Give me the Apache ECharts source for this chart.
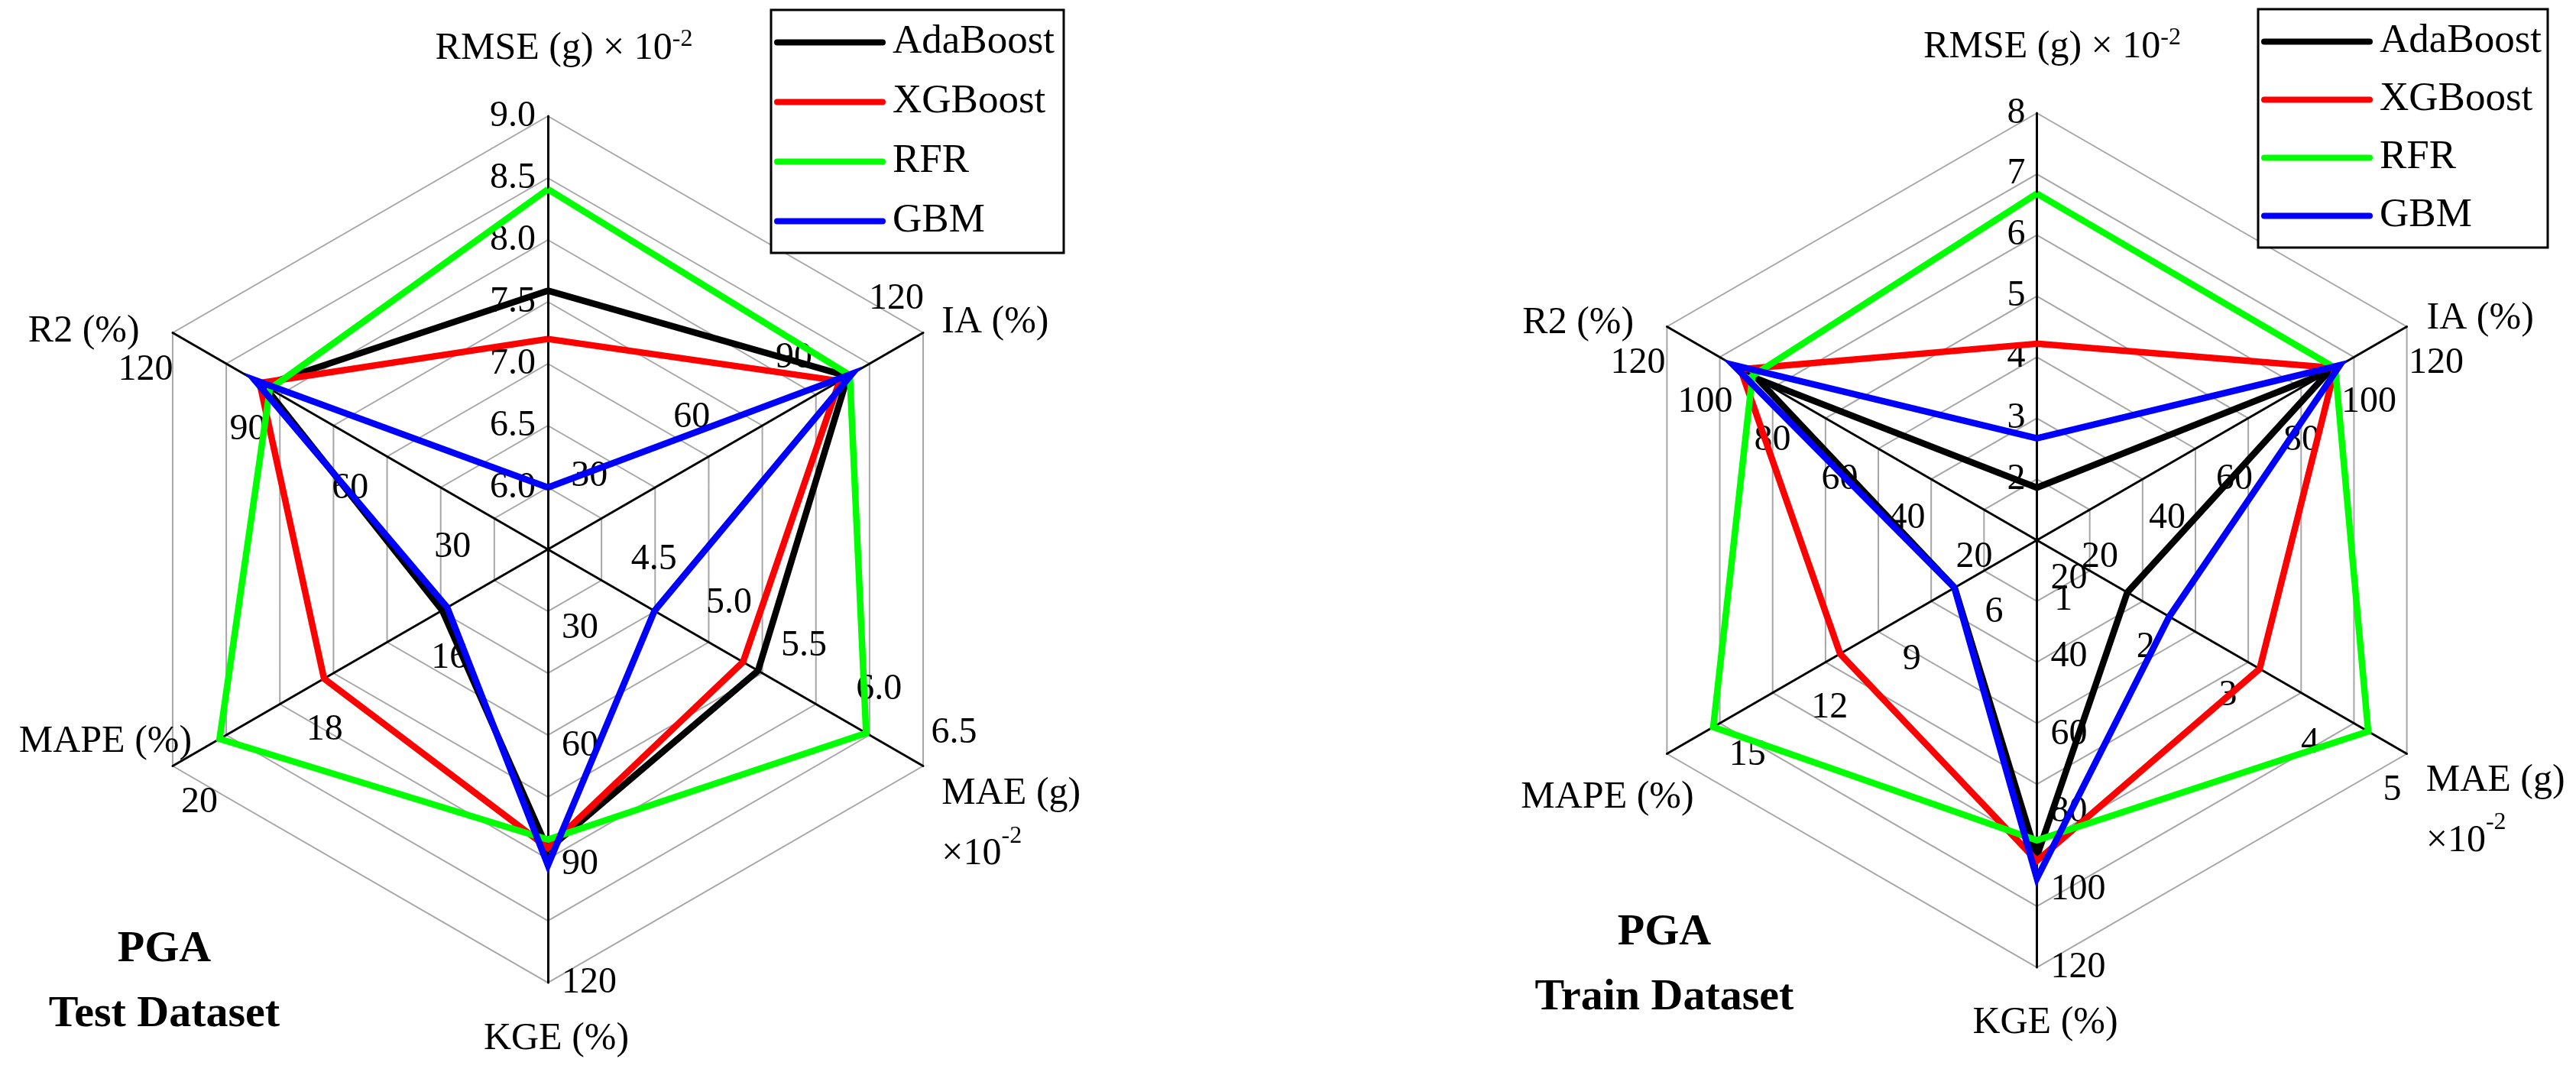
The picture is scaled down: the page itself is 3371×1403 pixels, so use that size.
<!DOCTYPE html>
<html>
<head>
<meta charset="utf-8">
<script src="https://cdn.jsdelivr.net/npm/echarts@6/dist/echarts.min.js"></script>
<style>
html,body{margin:0;padding:0;background:#fff;}
#chart{width:3371px;height:1403px;}
</style>
</head>
<body>
<div id="chart"></div>
<script>
// ---------------- DATA ----------------
const modelNames = ['AdaBoost', 'XGBoost', 'RFR', 'GBM'];
const modelColors = ['#000000', '#ff0000', '#00ff00', '#0000ff'];
// axes, counter-clockwise from the top
const axisKeys = ['RMSE', 'R2', 'MAPE', 'KGE', 'MAE', 'IA'];

// Test dataset (left)
const testAxisMin = [5.5, 10, 14, 10, 4.0, 10];
const testAxisMax = [9.0, 120, 20, 120, 6.5, 120];
const testTickStep = [0.5, 10, 2, 10, 0.5, 10];
const testRmseTicks = ['6.0', '6.5', '7.0', '7.5', '8.0', '8.5', '9.0'];
const testR2Ticks = ['30', '60', '90', '120'];
const testMapeTicks = ['16', '18', '20'];
const testKgeTicks = ['30', '60', '90', '120'];
const testMaeTicks = ['4.5', '5.0', '5.5', '6.0', '6.5'];
const testIaTicks = ['30', '60', '90', '120'];
const testAdaBoost = [7.59, 93.3, 15.69, 86.2, 5.40, 97.9];
const testXGBoost  = [7.20, 94.5, 17.58, 85.8, 5.30, 95.5];
const testRFR      = [8.41, 91.5, 19.25, 83.7, 6.12, 98.5];
const testGBM      = [6.00, 96.0, 15.61, 90.2, 4.71, 99.2];

// Train dataset (right)
const trainAxisMin = [1, 10, 3.6, 10, 0.5, 10];
const trainAxisMax = [8, 120, 17.1, 120, 5.0, 120];
const trainTickStep = [1, 10, 0.3, 10, 0.5, 10];
const trainRmseTicks = ['2', '3', '4', '5', '6', '7', '8'];
const trainR2Ticks = ['20', '40', '60', '80', '100', '120'];
const trainMapeTicks = ['6', '9', '12', '15'];
const trainKgeTicks = ['20', '40', '60', '80', '100', '120'];
const trainMaeTicks = ['1', '2', '3', '4', '5'];
const trainIaTicks = ['20', '40', '60', '80', '100', '120'];
const trainAdaBoost = [1.86, 93.0, 6.60, 91.4, 1.60, 96.8];
const trainXGBoost  = [4.22, 98.1, 10.78, 92.6, 3.21, 98.7];
const trainRFR      = [6.68, 94.6, 15.41, 87.3, 4.53, 98.7];
const trainGBM      = [2.67, 100.3, 6.61, 97.1, 2.11, 100.1];

const leftTitle = 'PGA\nTest Dataset';
const rightTitle = 'PGA\nTrain Dataset';

// ---------------- STYLE / LAYOUT ----------------
const FONT = 'Liberation Serif';
const stadium = 'path://M4,0H142A4,4,0,0,1,142,8H4A4,4,0,0,1,4,0Z';

const axisNameText = [
  '{a|RMSE (g) × 10}{s|-2}',
  '{a|R2 (%)}',
  '{a|MAPE (%)}',
  '{a|KGE (%)}',
  '{m|MAE (g)}\n{m|×10}{t|-2}',
  '{a|IA (%)}'
];

const leftLayout = {
  center: [717, 719], radius: 567,
  nameGaps: [60, 50, -29, 46, 28, 28],
  nameStyles: [
    {padding: [0, 0, 0, 42]},
    {padding: [46, 0, 0, 0]},
    {padding: [0, 0, 35, 0]},
    {padding: [0, 0, 0, 22]},
    {padding: [124, 0, 0, 0]},
    {}
  ],
  labelStyles: [
    {align: 'right', margin: 16, padding: [12, 0, 0, 0]},
    {align: 'center', margin: 57, padding: [0, 14, 0, 0]},
    {align: 'center', margin: 55, padding: [0, 0, 0, 15]},
    {align: 'left', margin: 18, padding: [8, 0, 0, 0]},
    {align: 'center', margin: 50, padding: [0, 0, 0, 31]},
    {align: 'center', margin: 51, padding: [0, 19, 0, 0]}
  ]
};
const rightLayout = {
  center: [2665.5, 707], radius: 559,
  nameGaps: [58, 50, 90, 45, 29, 30],
  nameStyles: [
    {padding: [0, 0, 0, 40]},
    {padding: [40, 0, 0, 0]},
    {align: 'center', padding: [24, 0, 0, 0]},
    {padding: [0, 0, 0, 22]},
    {padding: [120, 0, 0, 0]},
    {padding: [8, 0, 0, 0]}
  ],
  labelStyles: [
    {align: 'right', margin: 15, padding: [16, 0, 0, 0]},
    {align: 'center', margin: 55, padding: [0, 21, 0, 0]},
    {align: 'center', margin: 52, padding: [0, 0, 0, 8]},
    {align: 'left', margin: 18, padding: [4, 0, 0, 0]},
    {align: 'center', margin: -55, padding: [0, 0, 0, 17]},
    {align: 'center', margin: -55, padding: [0, 0, 0, 22]}
  ]
};

function tickFormatter(labels, step) {
  return function (v) {
    for (const s of labels) {
      if (Math.abs(parseFloat(s) - v) < step * 1e-3) return s;
    }
    return '';
  };
}

function buildRadars(mins, maxs, steps, tickSets, layout) {
  const main = {
    center: layout.center, radius: layout.radius, startAngle: 90,
    shape: 'polygon', splitNumber: 7,
    axisLine: {lineStyle: {color: '#000', width: 3}},
    splitLine: {lineStyle: {color: '#a6a6a6', width: 2}},
    splitArea: {show: false},
    axisTick: {show: false},
    axisLabel: {show: false},
    axisName: {
      color: '#000', fontFamily: FONT, fontSize: 50,
      rich: {
        a: {fontFamily: FONT, fontSize: 50, lineHeight: 56, color: '#000'},
        s: {fontFamily: FONT, fontSize: 32, lineHeight: 56, color: '#000', verticalAlign: 'top', padding: [0, 0, 14, 0]},
        m: {fontFamily: FONT, fontSize: 50, lineHeight: 79, color: '#000'},
        t: {fontFamily: FONT, fontSize: 32, lineHeight: 79, color: '#000', verticalAlign: 'top', padding: [0, 0, 22, 0]}
      }
    },
    indicator: axisKeys.map((k, i) => ({
      name: axisNameText[i], min: mins[i], max: maxs[i],
      nameGap: layout.nameGaps[i],
      nameTextStyle: layout.nameStyles[i]
    }))
  };
  const overlays = axisKeys.map((k, j) => ({
    center: layout.center, radius: layout.radius, startAngle: 90,
    shape: 'polygon', splitNumber: Math.round((maxs[j] - mins[j]) / steps[j]),
    axisLine: {show: false}, splitLine: {show: false}, splitArea: {show: false},
    axisTick: {show: false},
    axisName: {show: false},
    axisLabel: {show: true, color: '#000', fontFamily: FONT, fontSize: 48},
    indicator: axisKeys.map((k2, i) => ({
      name: '', min: mins[i], max: maxs[i],
      axisLabel: i === j
        ? Object.assign({show: true, fontFamily: FONT, formatter: tickFormatter(tickSets[j], steps[j])}, layout.labelStyles[j])
        : {show: false}
    }))
  }));
  return [main].concat(overlays);
}

const leftRadars = buildRadars(testAxisMin, testAxisMax, testTickStep,
  [testRmseTicks, testR2Ticks, testMapeTicks, testKgeTicks, testMaeTicks, testIaTicks], leftLayout);
const rightRadars = buildRadars(trainAxisMin, trainAxisMax, trainTickStep,
  [trainRmseTicks, trainR2Ticks, trainMapeTicks, trainKgeTicks, trainMaeTicks, trainIaTicks], rightLayout);

function seriesFor(radarIndex, valueSets) {
  return {
    type: 'radar', radarIndex: radarIndex, symbol: 'none', silent: true,
    data: valueSets.map((vals, i) => ({
      name: modelNames[i], value: vals,
      lineStyle: {color: modelColors[i], width: 8.5, join: 'miter', miterLimit: 10},
      itemStyle: {color: modelColors[i]}
    }))
  };
}

function legendAt(left, top, gap, padRight) {
  return {
    left: left, top: top, orient: 'vertical',
    data: modelNames.map(n => ({name: n, icon: stadium})),
    itemWidth: 146, itemHeight: 8, itemGap: gap,
    padding: [16, padRight, 15, 4],
    borderColor: '#000', borderWidth: 3, backgroundColor: '#fff',
    selectedMode: false,
    textStyle: {fontFamily: FONT, fontSize: 53, lineHeight: 50, color: '#000', padding: [0, 0, 0, 4]}
  };
}

const option = {
  backgroundColor: '#fff',
  animation: false,
  textStyle: {fontFamily: FONT},
  title: [
    {text: leftTitle, left: 215, top: 1201, textAlign: 'center', padding: 0,
     textStyle: {fontFamily: FONT, fontWeight: 'bold', fontSize: 58, lineHeight: 85, color: '#000'}},
    {text: rightTitle, left: 2178, top: 1179, textAlign: 'center', padding: 0,
     textStyle: {fontFamily: FONT, fontWeight: 'bold', fontSize: 58, lineHeight: 85, color: '#000'}}
  ],
  legend: [legendAt(1009, 13, 25, 12), legendAt(2955, 12, 23, 8)],
  radar: leftRadars.concat(rightRadars),
  series: [
    seriesFor(0, [testAdaBoost, testXGBoost, testRFR, testGBM]),
    seriesFor(leftRadars.length, [trainAdaBoost, trainXGBoost, trainRFR, trainGBM])
  ]
};

const chart = echarts.init(document.getElementById('chart'), null, {renderer: 'canvas'});
chart.setOption(option);
</script>
</body>
</html>
